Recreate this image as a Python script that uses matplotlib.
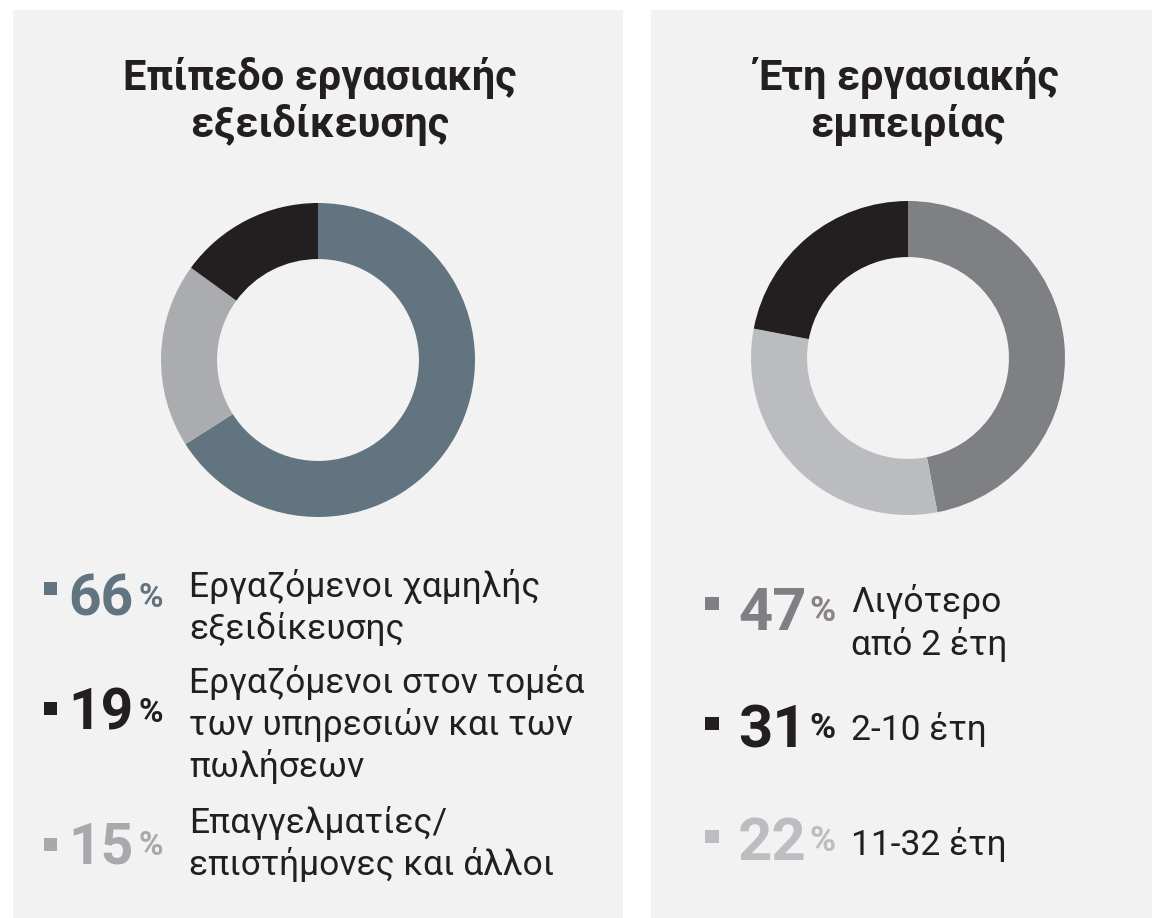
import matplotlib
matplotlib.use("Agg")
import matplotlib.pyplot as plt
from matplotlib.patches import Rectangle

plt.rcParams['font.family'] = ['Roboto', 'DejaVu Sans']

W, H = 1152, 918

# data
left_title = ["Επίπεδο εργασιακής", "εξειδίκευσης"]
left_values = [66, 19, 15]
left_labels = [["Εργαζόμενοι χαμηλής", "εξειδίκευσης"],
               ["Εργαζόμενοι στον τομέα", "των υπηρεσιών και των", "πωλήσεων"],
               ["Επαγγελματίες/", "επιστήμονες και άλλοι"]]
left_legend_colors = ["#62747f", "#231f20", "#a7a9ac"]
left_donut_colors = ["#62747f", "#abacaf", "#231f20"]

right_title = ["Έτη εργασιακής", "εμπειρίας"]
right_values = [47, 31, 22]
right_labels = [["Λιγότερο", "από 2 έτη"], ["2-10 έτη"], ["11-32 έτη"]]
right_legend_colors = ["#7f8084", "#231f20", "#bbbdc0"]
right_pct_colors = ["#8a8283", "#231f20", "#bbbdc0"]
right_donut_colors = ["#7f8084", "#bbbcbf", "#231f20"]

TXT = "#231f20"
BG = "#f2f2f2"

fig = plt.figure(figsize=(W / 100, H / 100), dpi=100)
fig.patch.set_facecolor("white")


def fx(x):
    return x / W


def fy(y):
    return 1 - y / H


def box(x0, y0, x1, y1, color, z=1):
    fig.add_artist(Rectangle((fx(x0), fy(y1)), (x1 - x0) / W, (y1 - y0) / H,
                             transform=fig.transFigure, color=color, lw=0, zorder=z))


def donut(cx, cy, r, values, colors):
    ax = fig.add_axes([fx(cx - r), fy(cy + r), 2 * r / W, 2 * r / H])
    ax.pie(values, colors=colors, startangle=90, counterclock=False,
           radius=1, wedgeprops=dict(width=0.357, linewidth=0))
    ax.set_xlim(-1, 1)
    ax.set_ylim(-1, 1)
    ax.set_aspect("equal")
    ax.axis("off")


# panels (behind the donut axes)
box(13, 10, 623, 918, BG, z=-1)
box(651, 10, 1152, 918, BG, z=-1)

# titles
for i, line in enumerate(left_title):
    fig.text(fx(320), fy(90 + 47 * i), line, ha="center", va="baseline",
             fontsize=30, fontweight="bold", color=TXT)
for i, line in enumerate(right_title):
    fig.text(fx(908), fy(90 + 47 * i), line, ha="center", va="baseline",
             fontsize=30, fontweight="bold", color=TXT)

# donuts
donut(318, 360, 157, left_values, left_donut_colors)
donut(908, 358, 157, right_values, right_donut_colors)

# left legend
num_base = [615, 730, 863]
txt_base = [597, 693, 833]
sq_top = [582, 702, 838]
for v, lab, c, nb, tb, st in zip(left_values, left_labels, left_legend_colors,
                                 num_base, txt_base, sq_top):
    box(44, st, 57, st + 13, c)
    fig.text(fx(68), fy(nb), str(v), ha="left", va="baseline",
             fontsize=41, fontweight="bold", color=c)
    fig.text(fx(139), fy(nb - 8), "%", ha="left", va="baseline",
             fontsize=24, fontweight="bold", color=c)
    for j, line in enumerate(lab):
        fig.text(fx(189), fy(tb + 42 * j), line, ha="left", va="baseline",
                 fontsize=25.5, color=TXT)

# right legend
num_base = [630, 747, 860]
txt_base = [612, 740, 855]
sq_top = [597, 717, 830]
for v, lab, c, pc, nb, tb, st in zip(right_values, right_labels, right_legend_colors,
                                     right_pct_colors, num_base, txt_base, sq_top):
    box(705, st, 719, st + 13, c)
    fig.text(fx(738), fy(nb), str(v), ha="left", va="baseline",
             fontsize=43, fontweight="bold", color=c)
    fig.text(fx(809), fy(nb - 9), "%", ha="left", va="baseline",
             fontsize=25.5, fontweight="bold", color=pc)
    for j, line in enumerate(lab):
        fig.text(fx(851), fy(tb + 43 * j), line, ha="left", va="baseline",
                 fontsize=25.5, color=TXT)

fig.savefig("out.png", dpi=100)
